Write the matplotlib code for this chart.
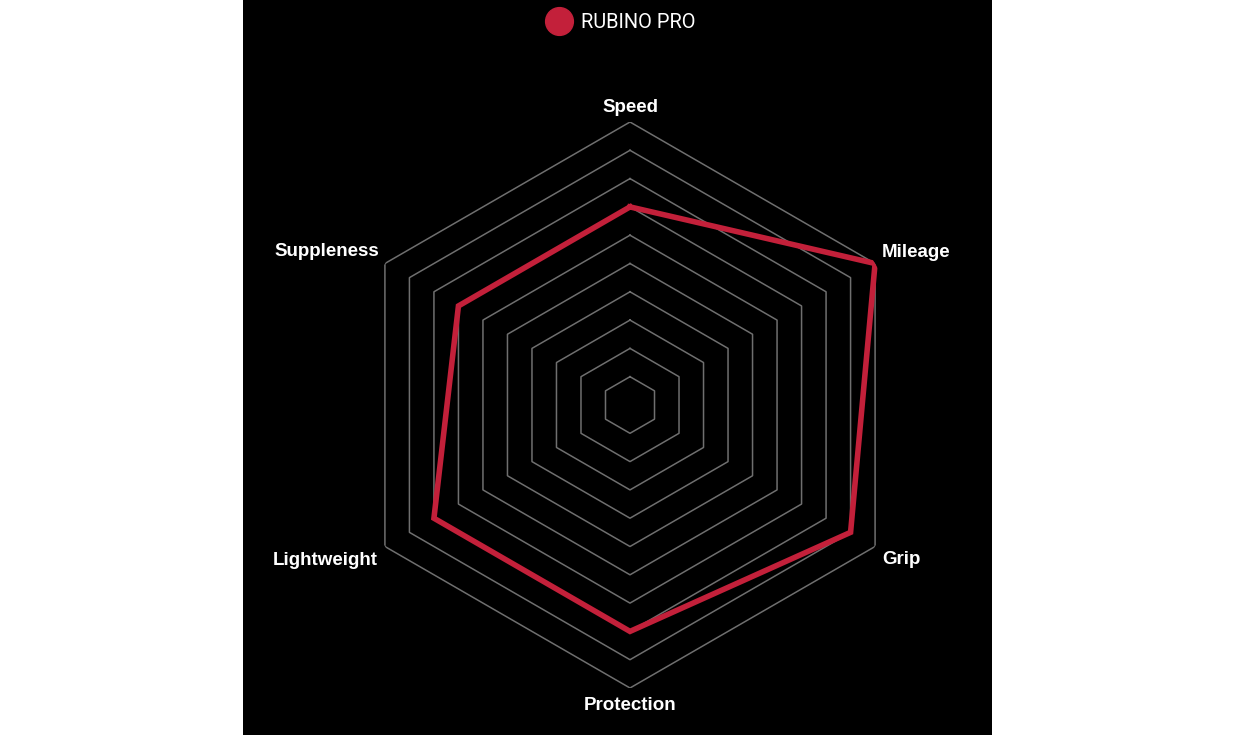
import numpy as np
import matplotlib
matplotlib.use("Agg")
import matplotlib.pyplot as plt
from matplotlib.lines import Line2D

# Tyre ratings (0-10 scale), clockwise from the top
categories = ["Speed", "Mileage", "Grip", "Protection", "Lightweight", "Suppleness"]
values = [7, 10, 9, 8, 8, 7]
series_name = "RUBINO PRO"
ring_levels = list(range(1, 11))

red = "#c3203a"
grid_color = "#6f6f6f"

W, H = 1235, 735
fig = plt.figure(figsize=(W / 100, H / 100), dpi=100)
fig.patch.set_facecolor("white")

# black panel behind the chart
bg = fig.add_axes([243 / W, 0, 749 / W, 1])
bg.set_facecolor("black")
bg.set_xticks([])
bg.set_yticks([])
for s in bg.spines.values():
    s.set_visible(False)

# polar axes: centre (630, 405) px, radius 283 px
cx, cy, R = 630, 405, 283
ax = fig.add_axes([(cx - R) / W, (H - cy - R) / H, 2 * R / W, 2 * R / H], projection="polar")
ax.set_facecolor("none")
ax.set_theta_offset(np.pi / 2)
ax.set_theta_direction(-1)
ax.set_ylim(0, 10)
ax.grid(False)
ax.spines["polar"].set_visible(False)
ax.set_xticks([])
ax.set_yticks([])

n = len(categories)
theta = np.linspace(0, 2 * np.pi, n, endpoint=False)
theta_closed = np.append(theta, theta[0])

# hexagonal rings
for lvl in ring_levels:
    ax.plot(theta_closed, [lvl] * (n + 1), color=grid_color, lw=1.1, zorder=1)

# data polygon
vals_closed = values + values[:1]
ax.plot(theta_closed, vals_closed, color=red, lw=4, solid_joinstyle="miter", zorder=3)

# category labels (pixel offsets from the outer vertex)
label_pos = {
    "Speed": (0, 15, "center"),
    "Mileage": (7, 11, "left"),
    "Grip": (7, -13, "left"),
    "Protection": (0, -17, "center"),
    "Lightweight": (-7, -14, "right"),
    "Suppleness": (-6, 12, "right"),
}
for t, name in zip(theta, categories):
    dx, dy, ha = label_pos[name]
    ax.annotate(name, xy=(t, 10), xytext=(dx, dy), textcoords="offset pixels",
                ha=ha, va="center", color="white", fontsize=13.5,
                fontweight="bold", family="Liberation Sans", annotation_clip=False)

# legend at the top
handle = Line2D([], [], marker="o", ls="", color=red, markersize=20)
leg = fig.legend([handle], [series_name], loc="center",
                 bbox_to_anchor=(622.5 / W, 1 - 22.5 / H), frameon=False,
                 handlelength=1.0, handletextpad=0.6, borderpad=0,
                 prop={"family": "Roboto", "size": 14.4})
for txt in leg.get_texts():
    txt.set_color("white")

fig.savefig("out.png", dpi=100, facecolor=fig.get_facecolor())
